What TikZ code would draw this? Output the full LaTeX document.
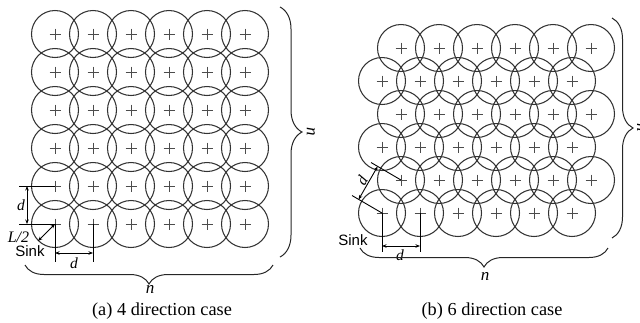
\documentclass[tikz,border=0pt]{standalone}
\usepackage{fontspec}
\setmainfont{Liberation Serif}
\newfontfamily\sinkfont{Liberation Sans}
\usetikzlibrary{decorations.pathreplacing,arrows.meta}
\begin{document}
\begin{tikzpicture}[x=1pt,y=-1pt,
  sensor/.style={circle,draw=black!80,line width=1.05pt,minimum size=47pt,inner sep=0pt},
  plus/.style={draw=black!70,line width=0.8pt},
  dim/.style={draw=black,line width=0.9pt},
  dimarrow/.style={draw=black,line width=0.9pt,{Stealth[length=4.5pt,width=3.5pt]}-{Stealth[length=4.5pt,width=3.5pt]}},
  br/.style={draw=black!85,line width=1pt,decorate,decoration={brace,amplitude=#1}},
  lbl/.style={font=\fontsize{15.5}{15.5}\selectfont\itshape,inner sep=0pt},
  nlbl/.style={font=\fontsize{17}{17}\selectfont\itshape,inner sep=0pt},
  sinklbl/.style={font=\fontsize{15}{15}\sinkfont,inner sep=0pt},
  captext/.style={font=\fontsize{18.3}{20}\selectfont,inner sep=0pt}]
\useasboundingbox (0,0) rectangle (640,322);

% ---------- (a) 4 direction case ----------
\foreach \i in {0,...,5}{
  \foreach \j in {0,...,5}{
    \node[sensor] (a\i\j) at ({55+38*\i},{34+38*\j}) {};
    \draw[plus] (a\i\j.center) ++(-5.5,0) -- ++(11,0);
    \draw[plus] (a\i\j.center) ++(0,-5.5) -- ++(0,11);
  }
}
% vertical d
\coordinate (ae1) at (19,186);
\coordinate (ae2) at (19,224);
\draw[dim] (ae1) -- (a04.center);
\draw[dim] (ae2) -- (a05.center);
\coordinate (av1) at (27,186);
\coordinate (av2) at (27,224);
\draw[dimarrow] (av1) -- (av2);
\node[lbl] (ad1) at (21,205) {d};
% L/2
\coordinate (al) at (38,241);
\draw[dimarrow] (a05.center) -- (al);
\node[lbl,font=\fontsize{16}{16}\selectfont\itshape] (alab) at (18.5,237) {L/2};
\node[sinklbl] (asink) at (30,251) {Sink};
% horizontal d
\coordinate (ab1) at (55,262);
\coordinate (ab2) at (93,262);
\draw[dim] (a05.center) -- (ab1);
\draw[dim] (a15.center) -- (ab2);
\coordinate (ah1) at (55,253);
\coordinate (ah2) at (93,253);
\draw[dimarrow] (ah1) -- (ah2);
\node[lbl] (ad2) at (74,263) {d};
% braces
\coordinate (abr1) at (280,7);
\coordinate (abr2) at (280,257);
\draw[br=22pt] (abr1) -- (abr2);
\node[nlbl,rotate=-90] (an1) at (311,132) {n};
\coordinate (abb1) at (273,265);
\coordinate (abb2) at (25,265);
\draw[br=19pt] (abb1) -- (abb2);
\node[nlbl] (an2) at (150,289) {n};
\node[captext] (capa) at (162,311) {(a) 4 direction case};

% ---------- (b) 6 direction case ----------
\foreach \j in {0,...,5}{
  \pgfmathsetmacro{\xo}{ifthenelse(mod(\j,2)==0,401,382)}
  \foreach \i in {0,...,5}{
    \node[sensor] (b\i\j) at ({\xo+38*\i},{48+33*\j}) {};
    \draw[plus] (b\i\j.center) ++(-5.5,0) -- ++(11,0);
    \draw[plus] (b\i\j.center) ++(0,-5.5) -- ++(0,11);
  }
}
% diagonal d
\coordinate (be1) at (352,195.5);
\coordinate (be2) at (371,162.5);
\draw[dim] (b05.center) -- (be1);
\draw[dim] (b04.center) -- (be2);
\coordinate (bd1) at (358.6,199.5);
\coordinate (bd2) at (377.6,166.5);
\draw[dimarrow] (bd1) -- (bd2);
\node[lbl,rotate=60] (bdl) at (362,180.5) {d};
\node[sinklbl] (bsink) at (353,240) {Sink};
% horizontal d
\coordinate (bb1) at (382,252);
\coordinate (bb2) at (420,252);
\draw[dim] (b05.center) -- (bb1);
\draw[dim] (b15.center) -- (bb2);
\coordinate (bh1) at (382,246);
\coordinate (bh2) at (420,246);
\draw[dimarrow] (bh1) -- (bh2);
\node[lbl] (bdh) at (400,255) {d};
% braces
\coordinate (bbr1) at (612,18);
\coordinate (bbr2) at (612,238);
\draw[br=21pt] (bbr1) -- (bbr2);
\node[nlbl,rotate=-90] (bn1) at (641,128) {n};
\coordinate (bbb1) at (608,248);
\coordinate (bbb2) at (360,248);
\draw[br=19pt] (bbb1) -- (bbb2);
\node[nlbl] (bn2) at (485,276) {n};
\node[captext] (capb) at (492,311) {(b) 6 direction case};
\end{tikzpicture}
\end{document}
